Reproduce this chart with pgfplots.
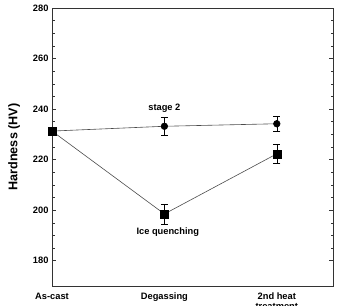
\documentclass[border=0pt]{standalone}
\usepackage{pgfplots}
\pgfplotsset{compat=1.18}
\usepackage{fontspec}
\setmainfont{Liberation Sans}
\usetikzlibrary{calc}
\begin{document}
\begin{tikzpicture}[x=1pt,y=1pt]
\begin{axis}[
  scale only axis,
  width=281pt, height=278pt,
  xmin=0, xmax=2.5,
  ymin=170, ymax=280,
  xtick={0,1,2},
  xticklabels={As-cast,Degassing,{\begin{tabular}[t]{@{}c@{}}2nd heat\\[0.5pt]treatment\end{tabular}}},
  xticklabel style={anchor=base, font=\fontsize{9.3}{10}\selectfont\bfseries, yshift=-13pt},
  x tick style={draw=none},
  ytick={180,200,...,280},
  minor y tick num=3,
  yticklabel style={font=\fontsize{9.3}{10}\selectfont\bfseries},
  /pgf/number format/assume math mode=true,
  ylabel={Hardness (HV)},
  ylabel style={font=\fontsize{12.6}{13}\selectfont\bfseries, yshift=6pt},
  axis line style={line width=0.9pt, black!80},
  major tick length=4pt,
  minor tick length=2.5pt,
  every tick/.style={black!80, line width=0.6pt},
  clip=false,
]
\addplot[black!70, line width=0.6pt, mark=*, mark size=3.3pt, mark options={fill=black, draw=black}, mark indices={2,3},
  error bars/.cd, y dir=both, y explicit, error bar style={black, line width=0.6pt}, error mark options={rotate=90, mark size=3.5pt, line width=0.6pt}]
  coordinates {
  (0,231.3) +- (0,0)
  (1,233.2) +- (0,3.7)
  (2,234.2) +- (0,3.0)
  };
\addplot[black!70, line width=0.6pt, mark=square*, mark size=4pt, mark options={fill=black, draw=black},
  error bars/.cd, y dir=both, y explicit, error bar style={black, line width=0.6pt}, error mark options={rotate=90, mark size=3.5pt, line width=0.6pt}]
  coordinates {
  (0,231.3) +- (0,0)
  (1,198.5) +- (0,3.9)
  (2,222.3) +- (0,3.7)
  };
\node[font=\fontsize{9.3}{10}\selectfont\bfseries] at (axis cs:1,240.5) {stage 2};
\node[font=\fontsize{9.3}{10}\selectfont\bfseries] at (axis cs:1.03,191.5) {Ice quenching};
\end{axis}
\pgfresetboundingbox
\useasboundingbox ($(current axis.south west)+(-52pt,-19pt)$) rectangle ($(current axis.north east)+(4pt,8pt)$);
\end{tikzpicture}
\end{document}
